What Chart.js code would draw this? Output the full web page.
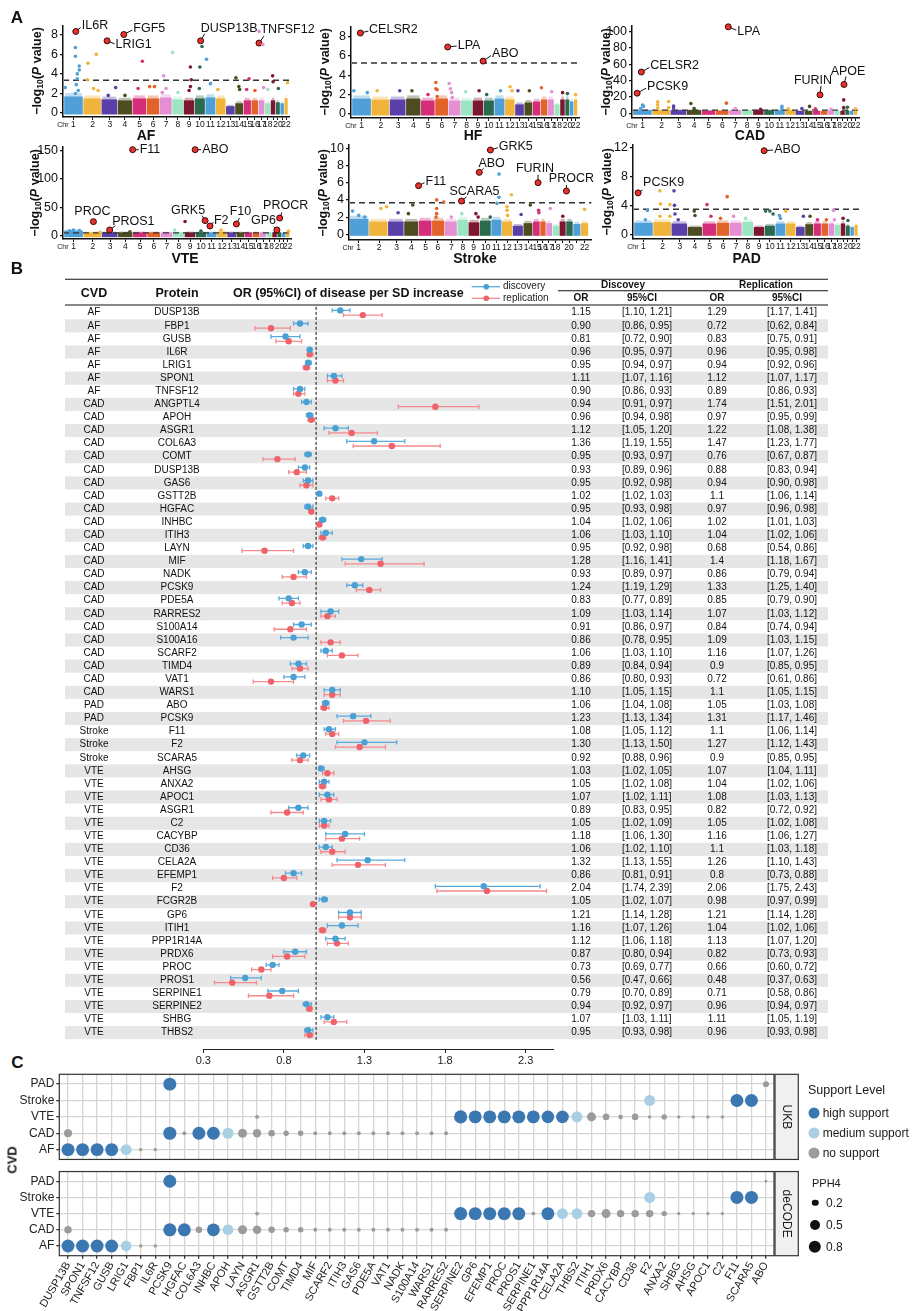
<!DOCTYPE html>
<html>
<head>
<meta charset="utf-8">
<script src="https://cdn.jsdelivr.net/npm/chart.js@4.4.1/dist/chart.umd.min.js"></script>
<style>
  body { margin: 0; background: #fff; }
  #page { position: relative; width: 916px; height: 1311px; overflow: hidden; background: #fff;
          font-family: "Liberation Sans", Arial, Helvetica, sans-serif; color: #111; }
  #page canvas { position: absolute; }
  .t { position: absolute; white-space: nowrap; line-height: 1; }
  sub { font-size: 0.68em; vertical-align: -0.3em; line-height: 0; }
  .dot { position: absolute; border-radius: 50%; transform: translate(-50%, -50%); }
</style>
</head>
<body>
<div id="page"></div>
<script>
// ---- panel A : chromosome layout ----
const chrLabels = ['1','2','3','4','5','6','7','8','9','10','11','12','13','14','15','16','17','18','','20','','22'];
const chrColors = ['#4f9fd8','#f0b43a','#5b3fa8','#4d4c21','#d42e7a','#e2622b','#e58fd3','#9be6c0','#7b1731','#2a6b4f'];
// chromosome centres, % of the x axis
const stdChrMid = [4.62,13.08,20.65,27.34,33.75,39.78,45.45,50.69,55.62,60.38,65.04,69.66,73.94,77.75,81.36,84.67,87.61,90.34,92.68,94.80,96.74,98.40];
const strokeChrMid = [4.0,12.4,19.6,25.7,31.6,36.7,42.2,47.0,51.4,56.4,60.8,65.2,69.7,74.0,77.6,80.0,82.5,85.3,88.2,90.8,94.0,97.2];

// dense background cloud height per chromosome, then single points [chr, offset in chr, -log10 P]
const afBlock = [1.7,1.5,1.4,1.3,1.5,1.5,1.6,1.4,1.3,1.5,1.6,1.5,0.7,1.0,1.3,1.3,1.3,1.0,1.3,1.1,1.0,1.5];
const afPoints = [[1,0.1,6.7],[1,0.1,5.8],[1,0.3,4.8],[1,0.3,4.4],[1,0.2,4.0],[1,0.2,3.5],[1,0.15,2.9],[1,0.25,2.3],[1,-0.43,2.6],[1,0.1,2.0],
  [2,0.2,6.0],[2,-0.26,5.1],[2,-0.3,3.4],[2,0.05,2.5],[2,0.3,2.3],[3,0.36,2.6],[3,-0.1,1.8],[4,0,1.8],[5,0.2,5.3],[5,-0.1,2.5],
  [6,-0.27,2.7],[6,0.1,2.7],[7,-0.19,3.8],[7,0,2.5],[7,-0.3,2.1],[8,-0.45,6.2],[8,0,2.1],[9,0.12,4.7],[9,0.2,3.4],[9,0.12,2.7],[9,0,2.3],
  [10,0.2,6.8],[10,0,4.7],[10,-0.05,2.5],[11,-0.37,5.5],[11,0,3.0],[12,-0.3,2.4],[14,-0.4,3.6],[14,-0.05,2.7],[14,0.05,2.4],
  [15,0.2,3.5],[15,-0.1,2.4],[16,0,2.3],[17,-0.4,8.35],[17,0.2,7.0],[17,0.3,2.6],[18,0,2.4],[19,-0.1,3.8],[19,0,3.2],[20,0.1,2.5],[22,0.4,3.1]];
const afGenes = [['IL6R',1,0.12,8.34],['LRIG1',3,-0.17,7.38],['FGF5',4,-0.08,8.03],['DUSP13B',10,0.07,7.38],['TNFSF12',17,-0.41,7.15]];

const hfBlock = [1.6,1.5,1.5,1.6,1.4,1.6,1.4,1.4,1.4,1.4,1.6,1.5,1.0,1.2,1.3,1.5,1.5,1.0,1.5,1.5,1.3,1.5];
const hfPoints = [[1,-0.4,2.4],[1,0.3,2.2],[2,-0.2,2.4],[3,0.1,2.4],[4,-0.1,2.4],[5,0,2.0],[6,-0.45,3.25],[6,-0.45,2.6],[6,-0.35,2.5],[6,-0.35,1.8],
  [7,-0.45,3.15],[7,-0.35,2.6],[7,-0.25,2.2],[7,-0.2,1.7],[8,-0.1,2.3],[9,0.1,2.4],[10,-0.2,2.0],[11,0.1,2.4],[12,0,2.8],[12,0.2,2.4],
  [13,-0.2,2.4],[14,0.1,2.4],[16,-0.4,2.7],[17,0.1,2.3],[19,0,2.2],[20,0,2.1],[22,0,2.0]];
const hfGenes = [['CELSR2',1,-0.06,8.34],['LPA',6,0.44,6.9],['ABO',9,0.46,5.45]];

const cadBlock = [4,4,4,4,3.5,3.5,4,4,4,4,4,4,3,3,3,3,3.5,3,3,3.5,3,4];
const cadPoints = [[1,0,10.3],[1,0.05,8.5],[1,-0.1,6],[2,-0.22,14],[2,-0.22,10.5],[2,0.38,14.5],[2,-0.22,6.5],[2,0.38,7],[3,-0.33,9],[3,-0.33,6.5],
  [4,-0.22,12],[4,0,6],[6,0.3,12.5],[7,0,6],[9,0.2,5],[11,0.2,8.5],[11,0.2,6],[12,-0.2,5.5],[13,0.2,6],[14,0.1,8.5],[15,-0.2,5.5],
  [17,0,5],[19,0.2,16.5],[19,0.2,7],[20,0,7.5],[22,0,5.5]];
const cadGenes = [['LPA',6,0.44,106],['CELSR2',1,-0.06,50.6],['PCSK9',1,-0.28,24.7],['FURIN',15,0.39,22.7],['APOE',19,0.27,35.4]];

const vteBlock = [9,6,6,6,6,6,6,6,6,6,6,7,6,6,6,6,6,6,6,6,5,6];
const vtePoints = [[1,0,10],[1,0.3,9],[1,-0.2,8.5],[2,0.4,6],[4,0.3,7],[8,-0.35,10],[9,-0.45,25],[10,0,8],[12,-0.1,10],[22,0.2,8]];
const vteGenes = [['F11',4,0.48,151],['ABO',9,0.46,151],['PROC',2,0.03,24.7],['PROS1',3,-0.03,10],['GRK5',10,0.39,26.5],
  ['F2',11,-0.15,17],['F10',13,0.49,20.6],['GP6',19,0.44,10],['PROCR',20,0.03,31]];

const strokeBlock = [1.8,1.5,1.5,1.5,1.6,1.6,1.5,1.7,1.4,1.6,1.7,1.5,1.0,1.3,1.5,1.5,1.3,1.0,1.5,1.5,1.2,1.3];
const strokePoints = [[1,-0.3,2.7],[1,0,2.2],[1,0.3,2.0],[2,0.1,3.0],[2,0.4,3.2],[3,0.1,2.5],[4,-0.2,2.4],[4,0.1,3.4],
  [6,-0.1,4.0],[6,-0.1,3.0],[6,-0.1,2.4],[6,-0.15,2.0],[6,0.45,3.75],[7,0,2.0],[8,-0.1,2.4],[9,0.2,2.4],[9,0.4,2.0],[10,0.4,2.0],
  [11,0.25,7.0],[11,0.25,4.3],[11,0.05,3.6],[12,0.4,4.6],[12,0,3.2],[12,0,2.8],[12,0.05,2.2],[13,0.3,2.3],[14,0.2,3.4],
  [15,0.2,2.8],[15,0.25,2.5],[17,0.2,3.0],[19,0,2.1],[22,0,2.9]];
const strokeGenes = [['GRK5',10,0.41,9.8],['ABO',9,0.5,7.2],['F11',4,0.5,5.65],['SCARA5',8,-0.13,3.87],['FURIN',15,0.13,6.0],['PROCR',20,-0.38,5.03]];

const padBlock = [1.6,1.7,1.5,1.0,1.5,1.6,1.6,1.7,1.0,1.2,1.5,1.5,1.0,1.4,1.5,1.5,1.5,1.3,1.5,1.2,1.0,1.3];
const padPoints = [[1,0.2,3.3],[1,0.1,2.0],[2,-0.15,6.0],[2,-0.12,4.2],[2,0.4,4.1],[2,0.4,2.5],[2,-0.15,2.5],[3,-0.36,6.0],[3,-0.33,4.0],
  [3,-0.3,2.8],[3,-0.1,2.0],[4,-0.05,3.2],[4,0,2.6],[5,-0.18,4.1],[5,0.1,2.5],[6,0.3,5.2],[6,-0.2,2.2],[7,-0.2,2.5],[8,-0.2,2.2],
  [10,-0.4,3.2],[10,0,3.2],[10,0.3,2.8],[11,-0.1,2.6],[11,0,2.2],[12,-0.5,3.2],[13,0.3,2.5],[14,0.1,2.5],[15,0,2.0],[16,0.2,2.0],
  [17,0.3,3.3],[17,0.45,2.0],[19,0,2.2],[20,0,1.9]];
const padGenes = [['PCSK9',1,-0.28,5.72],['ABO',9,0.46,11.54]];

// ---- panel B : forest table ----
const fCvd = ['AF','AF','AF','AF','AF','AF','AF',
  'CAD','CAD','CAD','CAD','CAD','CAD','CAD','CAD','CAD','CAD','CAD','CAD','CAD','CAD','CAD','CAD','CAD','CAD','CAD','CAD','CAD','CAD','CAD',
  'PAD','PAD','Stroke','Stroke','Stroke',
  'VTE','VTE','VTE','VTE','VTE','VTE','VTE','VTE','VTE','VTE','VTE','VTE','VTE','VTE','VTE','VTE','VTE','VTE','VTE','VTE','VTE'];
const fProtein = ['DUSP13B','FBP1','GUSB','IL6R','LRIG1','SPON1','TNFSF12',
  'ANGPTL4','APOH','ASGR1','COL6A3','COMT','DUSP13B','GAS6','GSTT2B','HGFAC','INHBC','ITIH3','LAYN','MIF','NADK','PCSK9','PDE5A',
  'RARRES2','S100A14','S100A16','SCARF2','TIMD4','VAT1','WARS1',
  'ABO','PCSK9','F11','F2','SCARA5',
  'AHSG','ANXA2','APOC1','ASGR1','C2','CACYBP','CD36','CELA2A','EFEMP1','F2','FCGR2B','GP6','ITIH1','PPP1R14A','PRDX6','PROC',
  'PROS1','SERPINE1','SERPINE2','SHBG','THBS2'];
const discOR = [1.15,0.90,0.81,0.96,0.95,1.11,0.90, 0.94,0.96,1.12,1.36,0.95,0.93,0.95,1.02,0.95,1.04,1.06,0.95,1.28,0.93,1.24,0.83,
  1.09,0.91,0.86,1.06,0.89,0.86,1.10, 1.06,1.23,1.08,1.30,0.92,
  1.03,1.05,1.07,0.89,1.05,1.18,1.06,1.32,0.86,2.04,1.05,1.21,1.16,1.12,0.87,0.73,0.56,0.79,0.94,1.07,0.95];
const discLo = [1.10,0.86,0.72,0.95,0.94,1.07,0.86, 0.91,0.94,1.05,1.19,0.93,0.89,0.92,1.02,0.93,1.02,1.03,0.92,1.16,0.89,1.19,0.77,
  1.03,0.86,0.78,1.03,0.84,0.80,1.05, 1.04,1.13,1.05,1.13,0.88,
  1.02,1.02,1.02,0.83,1.02,1.06,1.02,1.13,0.81,1.74,1.02,1.14,1.07,1.06,0.80,0.69,0.47,0.70,0.92,1.03,0.93];
const discHi = [1.21,0.95,0.90,0.97,0.97,1.16,0.93, 0.97,0.98,1.20,1.55,0.97,0.96,0.98,1.03,0.98,1.06,1.10,0.98,1.41,0.97,1.29,0.89,
  1.14,0.97,0.95,1.10,0.94,0.93,1.15, 1.08,1.34,1.12,1.50,0.96,
  1.05,1.08,1.11,0.95,1.09,1.30,1.10,1.55,0.91,2.39,1.07,1.28,1.26,1.18,0.94,0.77,0.66,0.89,0.97,1.11,0.98];
const repOR = [1.29,0.72,0.83,0.96,0.94,1.12,0.89, 1.74,0.97,1.22,1.47,0.76,0.88,0.94,1.1,0.97,1.02,1.04,0.68,1.4,0.86,1.33,0.85,
  1.07,0.84,1.09,1.16,0.9,0.72,1.1, 1.05,1.31,1.1,1.27,0.9,
  1.07,1.04,1.08,0.82,1.05,1.16,1.1,1.26,0.8,2.06,0.98,1.21,1.04,1.13,0.82,0.66,0.48,0.71,0.96,1.11,0.96];
const repLo = [1.17,0.62,0.75,0.95,0.92,1.07,0.86, 1.51,0.95,1.08,1.23,0.67,0.83,0.90,1.06,0.96,1.01,1.02,0.54,1.18,0.79,1.25,0.79,
  1.03,0.74,1.03,1.07,0.85,0.61,1.05, 1.03,1.17,1.06,1.12,0.85,
  1.04,1.02,1.03,0.72,1.02,1.06,1.03,1.10,0.73,1.75,0.97,1.14,1.02,1.07,0.73,0.60,0.37,0.58,0.94,1.05,0.93];
const repHi = [1.41,0.84,0.91,0.98,0.96,1.17,0.93, 2.01,0.99,1.38,1.77,0.87,0.94,0.98,1.14,0.98,1.03,1.06,0.86,1.67,0.94,1.40,0.90,
  1.12,0.94,1.15,1.26,0.95,0.86,1.15, 1.08,1.46,1.14,1.43,0.95,
  1.11,1.06,1.13,0.92,1.08,1.27,1.18,1.43,0.88,2.43,0.99,1.28,1.06,1.20,0.93,0.72,0.63,0.86,0.97,1.19,0.98];
const fTicks = [0.3, 0.8, 1.3, 1.8, 2.3];

// ---- panel C : colocalisation ----
const cProteins = ['DUSP13B','SPON1','TNFSF12','GUSB','LRIG1','FBP1','IL6R','PCSK9','HGFAC','COL6A3','INHBC','APOH','LAYN','ASGR1',
  'GSTT2B','COMT','TIMD4','MIF','SCARF2','ITIH3','GAS6','PDE5A','VAT1','NADK','S100A14','WARS1','RARRES2','SERPINE2','GP6','EFEMP1',
  'PROC','PROS1','SERPINE1','PPP1R14A','CELA2A','THBS2','ITIH1','PRDX6','CACYBP','CD36','F2','ANXA2','SHBG','AHSG','APOC1','C2',
  'F11','SCARA5','ABO'];
const cCvds = ['AF','CAD','VTE','Stroke','PAD'];
const ukbColoc = [
  ['DUSP13B','AF',0.88,'high'],['SPON1','AF',0.88,'high'],['TNFSF12','AF',0.88,'high'],['GUSB','AF',0.86,'high'],['LRIG1','AF',0.62,'medium'],
  ['FBP1','AF',0.03,'no'],['IL6R','AF',0.03,'no'],
  ['DUSP13B','CAD',0.32,'no'],['PCSK9','CAD',0.9,'high'],['HGFAC','CAD',0.05,'no'],['COL6A3','CAD',0.88,'high'],['INHBC','CAD',0.86,'high'],
  ['APOH','CAD',0.63,'medium'],['LAYN','CAD',0.41,'no'],['ASGR1','CAD',0.35,'no'],['GSTT2B','CAD',0.2,'no'],['COMT','CAD',0.13,'no'],
  ['TIMD4','CAD',0.13,'no'],['MIF','CAD',0.05,'no'],['SCARF2','CAD',0.05,'no'],['ITIH3','CAD',0.05,'no'],['GAS6','CAD',0.05,'no'],
  ['PDE5A','CAD',0.05,'no'],['VAT1','CAD',0.05,'no'],['NADK','CAD',0.05,'no'],['S100A14','CAD',0.05,'no'],['WARS1','CAD',0.05,'no'],
  ['RARRES2','CAD',0.05,'no'],
  ['ASGR1','VTE',0.05,'no'],['SERPINE2','VTE',0.9,'high'],['GP6','VTE',0.88,'high'],['EFEMP1','VTE',0.88,'high'],['PROC','VTE',0.88,'high'],
  ['PROS1','VTE',0.88,'high'],['SERPINE1','VTE',0.86,'high'],['PPP1R14A','VTE',0.82,'high'],['CELA2A','VTE',0.84,'high'],
  ['THBS2','VTE',0.63,'medium'],['ITIH1','VTE',0.41,'no'],['PRDX6','VTE',0.2,'no'],['CACYBP','VTE',0.08,'no'],['CD36','VTE',0.2,'no'],
  ['F2','VTE',0.03,'no'],['ANXA2','VTE',0.13,'no'],['SHBG','VTE',0.03,'no'],['AHSG','VTE',0.03,'no'],['APOC1','VTE',0.03,'no'],['C2','VTE',0.03,'no'],
  ['F2','Stroke',0.63,'medium'],['F11','Stroke',0.88,'high'],['SCARA5','Stroke',0.88,'high'],
  ['PCSK9','PAD',0.88,'high'],['ABO','PAD',0.16,'no']];
const decodeColoc = [
  ['DUSP13B','AF',0.88,'high'],['SPON1','AF',0.88,'high'],['TNFSF12','AF',0.88,'high'],['GUSB','AF',0.86,'high'],['LRIG1','AF',0.6,'medium'],
  ['FBP1','AF',0.03,'no'],['IL6R','AF',0.03,'no'],
  ['DUSP13B','CAD',0.27,'no'],['PCSK9','CAD',0.9,'high'],['HGFAC','CAD',0.88,'high'],['COL6A3','CAD',0.2,'no'],['INHBC','CAD',0.86,'high'],
  ['APOH','CAD',0.6,'medium'],['LAYN','CAD',0.41,'no'],['ASGR1','CAD',0.35,'no'],['GSTT2B','CAD',0.2,'no'],['COMT','CAD',0.13,'no'],
  ['TIMD4','CAD',0.13,'no'],['MIF','CAD',0.05,'no'],['SCARF2','CAD',0.05,'no'],['ITIH3','CAD',0.05,'no'],['GAS6','CAD',0.05,'no'],
  ['PDE5A','CAD',0.05,'no'],['VAT1','CAD',0.05,'no'],['NADK','CAD',0.05,'no'],['S100A14','CAD',0.05,'no'],['WARS1','CAD',0.05,'no'],
  ['RARRES2','CAD',0.05,'no'],
  ['ASGR1','VTE',0.05,'no'],['SERPINE2','VTE',0.9,'high'],['GP6','VTE',0.88,'high'],['EFEMP1','VTE',0.88,'high'],['PROC','VTE',0.88,'high'],
  ['PROS1','VTE',0.88,'high'],['SERPINE1','VTE',0.05,'no'],['PPP1R14A','VTE',0.86,'high'],['CELA2A','VTE',0.62,'medium'],
  ['THBS2','VTE',0.6,'medium'],['ITIH1','VTE',0.27,'no'],['PRDX6','VTE',0.41,'no'],['CACYBP','VTE',0.27,'no'],['CD36','VTE',0.27,'no'],
  ['F2','VTE',0.27,'no'],['ANXA2','VTE',0.13,'no'],['SHBG','VTE',0.03,'no'],['AHSG','VTE',0.03,'no'],['APOC1','VTE',0.03,'no'],['C2','VTE',0.03,'no'],
  ['F2','Stroke',0.63,'medium'],['F11','Stroke',0.88,'high'],['SCARA5','Stroke',0.88,'high'],
  ['PCSK9','PAD',0.88,'high'],['ABO','PAD',0.01,'no']];
const supportColors = { high: '#3b77b1', medium: '#a9cfe4', no: '#9b9b9b' };
const pphLegend = [0.2, 0.5, 0.8];

// ------------------------------------------------------------------
const FONT = '"Liberation Sans", Arial, Helvetica, sans-serif';
const NARROW = '"Liberation Sans Narrow", "Arial Narrow", "Liberation Sans", Arial, sans-serif';
Chart.defaults.font.family = FONT;
Chart.defaults.color = '#1a1a1a';
const page = document.getElementById('page');

function addCanvas(left, top, w, h) {
  const c = document.createElement('canvas');
  c.width = w; c.height = h;
  c.style.left = left + 'px'; c.style.top = top + 'px';
  c.style.width = w + 'px'; c.style.height = h + 'px';
  page.appendChild(c);
  return c;
}

function txt(html, x, y, css, mode) {
  const d = document.createElement('div');
  d.className = 't';
  d.innerHTML = html;
  d.style.cssText += css;
  d.style.left = x + 'px';
  d.style.top = y + 'px';
  d.style.transform = mode === 'rot' ? 'translate(-50%,-50%) rotate(-90deg)'
    : mode === 'left' ? 'translate(0,-50%)' : 'translate(-50%,-50%)';
  page.appendChild(d);
}

// fixed axis size so the plot area lands where it should
function fix(size) {
  return s => {
    if (s.isHorizontal()) s.height = size; else s.width = size;
    s.paddingLeft = 0; s.paddingRight = 0; s.paddingTop = 0; s.paddingBottom = 0;
  };
}

function spans(mids) {
  return mids.map((m, i) => {
    const lo = i === 0 ? m - (mids[1] - m) / 2 : (mids[i - 1] + m) / 2;
    const hi = i === mids.length - 1 ? m + (m - mids[i - 1]) / 2 : (m + mids[i + 1]) / 2;
    return [lo, hi];
  });
}

const baseOpts = { responsive: false, animation: false, events: [], devicePixelRatio: 1 };

// ---------------- Manhattan plots ----------------
function manhattan(o) {
  const [l, t, r, b] = o.area;
  const padL = 50, padT = 16, padB = 20;
  const left = l - padL, top = t - padT;
  const w = Math.ceil(r - left + 32), h = Math.ceil(b - top + padB);
  const padR = w - (r - left);
  const cv = addCanvas(left, top, w, h);
  const sp = spans(o.mids);
  const xOf = (c, off) => o.mids[c - 1] + off * (sp[c - 1][1] - sp[c - 1][0]);

  new Chart(cv, {
    type: 'scatter',
    data: {
      datasets: [
        {
          data: o.pts.map(p => ({ x: xOf(p[0], p[1]), y: p[2] })),
          pointBackgroundColor: o.pts.map(p => chrColors[(p[0] - 1) % 10]),
          pointRadius: 1.8, pointBorderWidth: 0, clip: false
        },
        {
          data: o.genes.map(g => ({ x: xOf(g[1], g[2]), y: g[3] })),
          pointBackgroundColor: '#e8312a', pointBorderColor: '#3d0a08',
          pointBorderWidth: 1, pointRadius: 3, clip: false
        }
      ]
    },
    options: Object.assign({}, baseOpts, {
      layout: { padding: { left: 0, top: padT, right: padR, bottom: 0 } },
      plugins: { legend: { display: false }, tooltip: { enabled: false } },
      scales: {
        x: {
          type: 'linear', min: 0, max: 100,
          afterBuildTicks: s => { s.ticks = o.mids.map(v => ({ value: v })); },
          afterFit: fix(padB),
          ticks: { autoSkip: false, maxRotation: 0, minRotation: 0, padding: 0, color: '#111',
                   font: { size: 8.5, family: NARROW }, callback: (v, i) => chrLabels[i] },
          grid: { drawOnChartArea: false, tickLength: 3, color: '#111', lineWidth: 1 },
          border: { color: '#111', width: 1.5 }
        },
        y: {
          min: o.yMin, max: o.yMax,
          afterBuildTicks: s => { s.ticks = o.yTicks.map(v => ({ value: v })); },
          afterFit: fix(padL),
          ticks: { padding: 2, color: '#111', font: { size: 12.5, family: NARROW } },
          grid: { drawOnChartArea: false, tickLength: 3, color: '#111', lineWidth: 1.2 },
          border: { color: '#111', width: 1.5 }
        }
      }
    }),
    plugins: [{
      id: 'manhattanExtras',
      beforeDatasetsDraw(ch) {
        const { ctx, chartArea: a, scales: { x, y } } = ch;
        ctx.save();
        ctx.beginPath(); ctx.rect(a.left + 1, a.top, a.width, a.height - 1); ctx.clip();
        const yb = y.getPixelForValue(0) + 1.5;
        o.block.forEach((hgt, i) => {
          const x0 = x.getPixelForValue(sp[i][0]) + 0.3;
          const x1 = x.getPixelForValue(sp[i][1]) - 0.3;
          const yt = y.getPixelForValue(hgt);
          const yf = y.getPixelForValue(hgt * 1.2);
          ctx.fillStyle = chrColors[i % 10];
          ctx.fillRect(x0, yt, x1 - x0, yb - yt);
          ctx.globalAlpha = 0.35;
          ctx.fillRect(x0 + 1, yf, x1 - x0 - 2, yt - yf);
          ctx.globalAlpha = 1;
        });
        const yThr = y.getPixelForValue(o.thr);
        ctx.strokeStyle = '#333'; ctx.lineWidth = 1.4; ctx.setLineDash([6, 4]);
        ctx.beginPath(); ctx.moveTo(a.left, yThr); ctx.lineTo(a.right, yThr); ctx.stroke();
        ctx.restore();
        // leader lines
        ctx.save();
        ctx.strokeStyle = '#111'; ctx.lineWidth = 1;
        o.genes.forEach((g, i) => {
          const lp = o.lab[i];
          if (!lp[3] && !lp[4]) return;
          const px = x.getPixelForValue(xOf(g[1], g[2])), py = y.getPixelForValue(g[3]);
          ctx.beginPath(); ctx.moveTo(px, py); ctx.lineTo(px + lp[3], py + lp[4]); ctx.stroke();
        });
        ctx.restore();
      },
      afterDatasetsDraw(ch) {
        const { ctx, scales: { x, y } } = ch;
        ctx.save();
        ctx.font = '12.5px ' + FONT;
        ctx.fillStyle = '#111';
        ctx.textBaseline = 'middle';
        o.genes.forEach((g, i) => {
          const lp = o.lab[i];
          const px = x.getPixelForValue(xOf(g[1], g[2])), py = y.getPixelForValue(g[3]);
          ctx.textAlign = lp[2];
          ctx.fillText(g[0], px + lp[0], py + lp[1]);
        });
        ctx.restore();
      },
      afterDraw(ch) {
        const { ctx, chartArea: a, scales: { x } } = ch;
        ctx.save();
        ctx.font = '7px ' + NARROW;
        ctx.fillStyle = '#111'; ctx.textAlign = 'right'; ctx.textBaseline = 'middle';
        ctx.fillText('Chr', x.getPixelForValue(o.mids[0]) - 5, a.bottom + 8);
        ctx.restore();
      }
    }]
  });
}

// label placement: [text dx, text dy, align, leader dx, leader dy]
const afLabelPos = [[6,-5.5,'left',5,-4],[8.5,3.5,'left',7.5,3],[9.5,-5.5,'left',8.5,-4.5],[0,-12,'left',4,-7],[1.5,-14,'left',5,-7]];
const hfLabelPos = [[8.7,-3,'left',8,-2],[10,-1.7,'left',9,-1],[9,-7.7,'left',8,-5.5]];
const cadLabelPos = [[9,4.3,'left',8,3.3],[9,-6,'left',8,-4.5],[10,-7,'left',9,-5],[-7,-14.3,'center',1,-9],[4,-13,'center',2,-8]];
const vteLabelPos = [[7,0,'left',6,0],[7,0,'left',6,0],[-1,-10,'center',0,0],[2.5,-8.6,'left',5.7,-4.3],[0,-10,'right',-3,-5],
  [4,-5.3,'left',3.5,-4],[4,-12,'center',3,-6],[-1,-9,'right',-3.3,-3.3],[6,-12.3,'center',2.3,-5.7]];
const strokeLabelPos = [[8.3,-3,'left',7.5,-2.3],[12.3,-9.3,'center',4.3,-4],[7,-3.7,'left',6,-3],[13,-9,'center',5,-4.3],
  [-3,-13.7,'center',0,-8],[5,-12,'center',0,-6]];
const padLabelPos = [[5,-10.7,'left',4.3,-2.7],[10,-1.4,'left',9,-0.7]];

manhattan({ area: [63.3, 26, 290, 116.7], yMin: -0.41, yMax: 8.9, yTicks: [0,2,4,6,8], mids: stdChrMid,
  block: afBlock, pts: afPoints, genes: afGenes, lab: afLabelPos, thr: 3.35 });
manhattan({ area: [350.7, 26.7, 579, 117.3], yMin: -0.41, yMax: 8.96, yTicks: [0,2,4,6,8], mids: stdChrMid,
  block: hfBlock, pts: hfPoints, genes: hfGenes, lab: hfLabelPos, thr: 5.25 });
manhattan({ area: [631.7, 26, 859, 117.3], yMin: -5.7, yMax: 107, yTicks: [0,20,40,60,80,100], mids: stdChrMid,
  block: cadBlock, pts: cadPoints, genes: cadGenes, lab: cadLabelPos, thr: 4 });
manhattan({ area: [63.3, 146.7, 291.7, 238.3], yMin: -5.8, yMax: 155.7, yTicks: [0,50,100,150], mids: stdChrMid,
  block: vteBlock, pts: vtePoints, genes: vteGenes, lab: vteLabelPos, thr: 5 });
manhattan({ area: [349.3, 145, 591.7, 240], yMin: -0.66, yMax: 10.38, yTicks: [0,2,4,6,8,10], mids: strokeChrMid,
  block: strokeBlock, pts: strokePoints, genes: strokeGenes, lab: strokeLabelPos, thr: 3.67 });
manhattan({ area: [633.3, 145, 860, 238.7], yMin: -0.65, yMax: 12.33, yTicks: [0,2,4,6,8,10,12], mids: stdChrMid,
  block: padBlock, pts: padPoints, genes: padGenes, lab: padLabelPos, thr: 3.46 });

// titles for panel A
const yTitle = '<b>&minus;log<sub>10</sub>(<i>P</i> value)</b>';
const yTitleCss = 'font-size:12.5px;';
[[37, 71.4], [324.5, 72], [605.5, 71.5], [35, 192.5], [323, 192.5], [607, 192]].forEach(p => txt(yTitle, p[0], p[1], yTitleCss, 'rot'));
const xTitleCss = 'font-size:14px;font-weight:bold;';
[['AF', 146, 135], ['HF', 473, 135], ['CAD', 750, 135], ['VTE', 185, 258.3], ['Stroke', 475, 258.3], ['PAD', 746.7, 258.3]]
  .forEach(p => txt(p[0], p[1], p[2], xTitleCss));
txt('A', 17, 17, 'font-size:17px;font-weight:bold;');
txt('B', 17, 267.5, 'font-size:17px;font-weight:bold;');
txt('C', 17.5, 1061.5, 'font-size:17px;font-weight:bold;');

// ---------------- Forest plot + table ----------------
(function () {
  const CL = 60, CT = 270, W = 780, H = 810;
  const cv = addCanvas(CL, CT, W, H);
  const areaL = 203.3, areaR = 553, areaT = 306.2, areaB = 1049;
  new Chart(cv, {
    type: 'scatter',
    data: {
      datasets: [
        { data: discOR.map((v, i) => ({ x: v, y: i - 0.18 })), pointRadius: 3.2, pointBorderWidth: 0,
          pointBackgroundColor: '#4a9fd3', lo: discLo, hi: discHi, whisker: '#5aaadd', off: -0.18, clip: false },
        { data: repOR.map((v, i) => ({ x: v, y: i + 0.18 })), pointRadius: 3.2, pointBorderWidth: 0,
          pointBackgroundColor: '#ef626a', lo: repLo, hi: repHi, whisker: '#f58a8f', off: 0.18, clip: false }
      ]
    },
    options: Object.assign({}, baseOpts, {
      layout: { padding: { left: areaL - CL, top: areaT - CT, right: W - (areaR - CL), bottom: H - (areaB - CT) - 20 } },
      plugins: { legend: { display: false }, tooltip: { enabled: false } },
      scales: {
        x: {
          type: 'linear', min: 0.3, max: 2.47,
          afterBuildTicks: s => { s.ticks = fTicks.map(v => ({ value: v })); },
          afterFit: fix(20),
          ticks: { padding: 1, color: '#222', font: { size: 11 }, callback: v => v.toFixed(1) },
          grid: { drawOnChartArea: false, tickLength: 4, color: '#222' },
          border: { color: '#222', width: 1 }
        },
        y: { display: false, reverse: true, min: -0.5, max: 56.25 }
      }
    }),
    plugins: [{
      id: 'forestTable',
      beforeDraw(ch) {
        const { ctx, scales: { y } } = ch;
        const Y = i => y.getPixelForValue(i) + CT;
        const pitch = Math.abs(Y(1) - Y(0));
        ctx.save();
        ctx.translate(-CL, -CT);
        ctx.fillStyle = '#e6e6e6';
        fProtein.forEach((p, i) => { if (i % 2) ctx.fillRect(65, Y(i) - pitch / 2, 763, pitch); });
        ctx.strokeStyle = '#111'; ctx.lineWidth = 1.1;
        [[65, 828, 279.3], [558, 828, 290.7], [65, 828, 305]].forEach(([a, b, yy]) => {
          ctx.beginPath(); ctx.moveTo(a, yy); ctx.lineTo(b, yy); ctx.stroke();
        });
        ctx.fillStyle = '#111'; ctx.textBaseline = 'middle'; ctx.textAlign = 'center';
        ctx.font = 'bold 12.5px ' + FONT;
        ctx.fillText('CVD', 94, 293.3);
        ctx.fillText('Protein', 177, 293.3);
        ctx.textAlign = 'left';
        ctx.fillText('OR (95%CI) of disease per SD increase', 233, 293.3);
        ctx.textAlign = 'center';
        ctx.font = 'bold 10px ' + FONT;
        ctx.fillText('Discovey', 623, 285);
        ctx.fillText('Replication', 766, 285);
        ctx.fillText('OR', 581, 298.3); ctx.fillText('95%CI', 642, 298.3);
        ctx.fillText('OR', 717, 298.3); ctx.fillText('95%CI', 787, 298.3);
        // legend
        [['discovery', '#4a9fd3', '#5aaadd', 286.7], ['replication', '#ef626a', '#f58a8f', 298.3]].forEach(([lab, c, wc, yy]) => {
          ctx.strokeStyle = wc; ctx.lineWidth = 1.3;
          ctx.beginPath(); ctx.moveTo(471.7, yy); ctx.lineTo(500, yy); ctx.stroke();
          ctx.fillStyle = c; ctx.beginPath(); ctx.arc(486.3, yy, 2.8, 0, Math.PI * 2); ctx.fill();
          ctx.fillStyle = '#222'; ctx.font = '10px ' + FONT; ctx.textAlign = 'left';
          ctx.fillText(lab, 503, yy);
        });
        // table rows
        ctx.fillStyle = '#111'; ctx.textAlign = 'center'; ctx.font = '10px ' + FONT;
        fProtein.forEach((p, i) => {
          const yy = Y(i);
          ctx.fillText(fCvd[i], 94, yy);
          ctx.fillText(p, 177, yy);
          ctx.fillText(discOR[i].toFixed(2), 581, yy);
          ctx.fillText('[' + discLo[i].toFixed(2) + ', ' + discHi[i].toFixed(2) + ']', 647, yy);
          ctx.fillText(String(repOR[i]), 717, yy);
          ctx.fillText('[' + repLo[i].toFixed(2) + ', ' + repHi[i].toFixed(2) + ']', 792, yy);
        });
        ctx.restore();
      },
      beforeDatasetsDraw(ch) {
        const { ctx, scales: { x, y } } = ch;
        ctx.save();
        const x1 = x.getPixelForValue(1);
        ctx.strokeStyle = '#111'; ctx.lineWidth = 1; ctx.setLineDash([3, 2]);
        ctx.beginPath(); ctx.moveTo(x1, y.getPixelForValue(-0.45)); ctx.lineTo(x1, y.getPixelForValue(55.6)); ctx.stroke();
        ctx.setLineDash([]); ctx.lineWidth = 1.3;
        ch.data.datasets.forEach(ds => {
          ctx.strokeStyle = ds.whisker;
          ds.lo.forEach((lo, i) => {
            const yy = y.getPixelForValue(i + ds.off);
            const a = x.getPixelForValue(lo), b = x.getPixelForValue(ds.hi[i]);
            ctx.beginPath();
            ctx.moveTo(a, yy); ctx.lineTo(b, yy);
            ctx.moveTo(a, yy - 2.2); ctx.lineTo(a, yy + 2.2);
            ctx.moveTo(b, yy - 2.2); ctx.lineTo(b, yy + 2.2);
            ctx.stroke();
          });
        });
        ctx.restore();
      }
    }]
  });
})();

// ---------------- Colocalisation dot plots ----------------
const pphRadius = p => Math.sqrt(1.5 + 46 * p);

function dotPanel(recs, name, areaTop, areaBottom, canvasTop, canvasBottom, showX) {
  const l = 59.3, r = 774, W = 916;
  const H = Math.round(canvasBottom - canvasTop);
  const cv = addCanvas(0, canvasTop, W, H);
  const xAxisH = showX ? canvasTop + H - areaBottom : 0;
  const padB = showX ? 0 : canvasTop + H - areaBottom;
  new Chart(cv, {
    type: 'bubble',
    data: {
      datasets: [{
        data: recs.map(d => ({ x: cProteins.indexOf(d[0]), y: cCvds.indexOf(d[1]), r: pphRadius(d[2]) })),
        backgroundColor: recs.map(d => supportColors[d[3]]),
        borderWidth: 0, clip: false
      }]
    },
    options: Object.assign({}, baseOpts, {
      layout: { padding: { left: 0, top: areaTop - canvasTop, right: W - r, bottom: padB } },
      plugins: { legend: { display: false }, tooltip: { enabled: false } },
      scales: {
        x: {
          type: 'linear', min: -0.6, max: 48.55,
          afterBuildTicks: s => { s.ticks = cProteins.map((p, i) => ({ value: i })); },
          afterFit: fix(xAxisH),
          ticks: { display: showX, autoSkip: false, minRotation: 60, maxRotation: 60, padding: 1, color: '#222',
                   font: { size: 11 }, callback: (v, i) => cProteins[i] },
          grid: { color: '#d6d6d6', lineWidth: 1.3, drawTicks: showX, tickLength: 3, tickColor: '#333' },
          border: { display: false }
        },
        y: {
          min: -0.6, max: 4.6,
          afterBuildTicks: s => { s.ticks = cCvds.map((c, i) => ({ value: i })); },
          afterFit: fix(l),
          ticks: { padding: 2, color: '#222', font: { size: 12 }, callback: (v, i) => cCvds[i] },
          grid: { color: '#d6d6d6', lineWidth: 1.3, tickLength: 3, tickColor: '#333' },
          border: { display: false }
        }
      }
    }),
    plugins: [{
      id: 'facetStrip',
      afterDraw(ch) {
        const { ctx, chartArea: a } = ch;
        ctx.save();
        ctx.strokeStyle = '#333'; ctx.lineWidth = 1.2;
        ctx.strokeRect(a.left, a.top, a.width, a.height);
        ctx.fillStyle = '#f0f0f0';
        ctx.fillRect(a.right + 1, a.top, 23.3, a.height);
        ctx.strokeRect(a.right + 1, a.top, 23.3, a.height);
        ctx.fillStyle = '#1a1a1a'; ctx.font = '12px ' + FONT;
        ctx.textAlign = 'center'; ctx.textBaseline = 'middle';
        ctx.translate(a.right + 1 + 11.65, (a.top + a.bottom) / 2);
        ctx.rotate(Math.PI / 2);
        ctx.fillText(name, 0, 0);
        ctx.restore();
      }
    }]
  });
}

dotPanel(ukbColoc, 'UKB', 1074.3, 1163.3, 1066, 1166, false);
dotPanel(decodeColoc, 'deCODE', 1167.7, 1255.7, 1165, 1311, true);

txt('<b>CVD</b>', 12, 1160, 'font-size:13px;', 'rot');

// legend for panel C
txt('Support Level', 808, 1090, 'font-size:12.5px;color:#1a1a1a;', 'left');
[['high support', 'high', 1113.3], ['medium support', 'medium', 1133.3], ['no support', 'no', 1153.3]].forEach(([lab, k, yy]) => {
  const d = document.createElement('div');
  d.className = 'dot';
  d.style.cssText += 'left:814px;top:' + yy + 'px;width:11px;height:11px;background:' + supportColors[k] + ';';
  page.appendChild(d);
  txt(lab, 822.7, yy, 'font-size:12px;color:#1a1a1a;', 'left');
});
txt('PPH4', 812, 1183.3, 'font-size:11px;color:#1a1a1a;', 'left');
[1202.7, 1225, 1246.7].forEach((yy, i) => {
  const rr = pphRadius(pphLegend[i]);
  const d = document.createElement('div');
  d.className = 'dot';
  d.style.cssText += 'left:815px;top:' + yy + 'px;width:' + (2 * rr) + 'px;height:' + (2 * rr) + 'px;background:#111;';
  page.appendChild(d);
  txt(pphLegend[i].toFixed(1), 826, yy, 'font-size:12px;color:#1a1a1a;', 'left');
});
</script>
</body>
</html>
